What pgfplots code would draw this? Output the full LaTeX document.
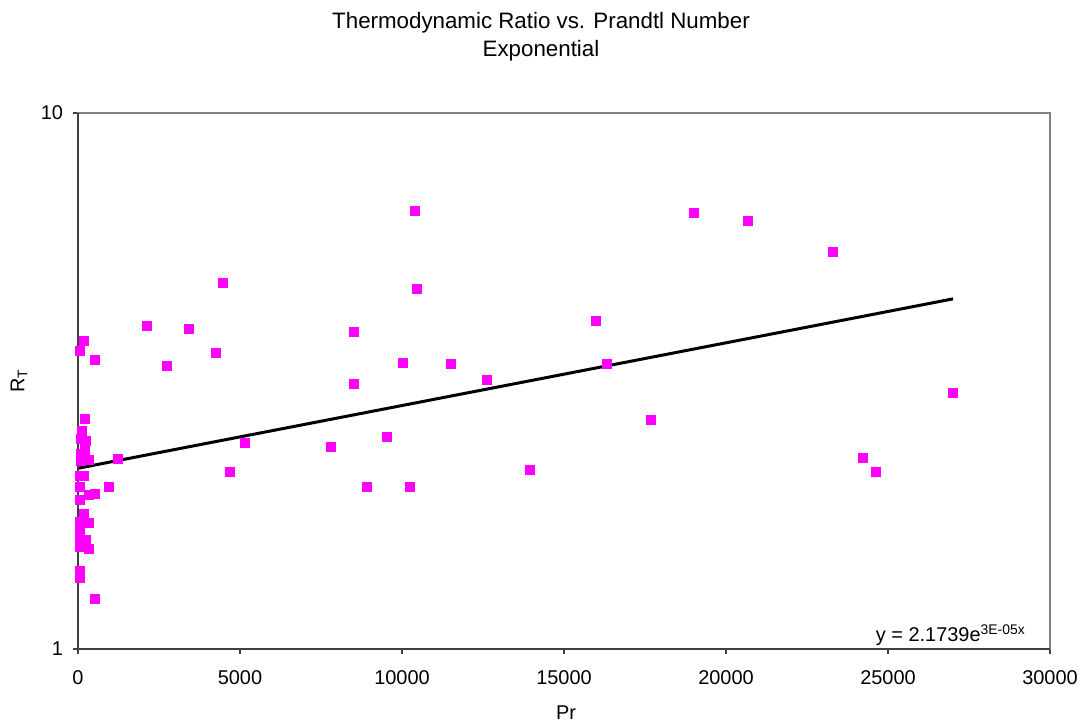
\documentclass[border=0pt]{standalone}
\usepackage{pgfplots}
\pgfplotsset{compat=1.18}
\usepackage{fontspec}
\setmainfont{Liberation Sans}
\definecolor{mag}{RGB}{255,0,255}
\pgfplotstableread{
x y
185 3.75
62 3.60
534 3.46
225 2.69
133 2.55
83 2.47
247 2.44
225 2.39
102 2.31
207 2.29
83 2.24
349 2.25
1244 2.26
62 2.10
185 2.10
62 2.01
966 2.01
62 1.90
330 1.94
534 1.95
185 1.79
62 1.73
330 1.72
62 1.67
62 1.61
247 1.60
62 1.55
330 1.54
62 1.40
62 1.36
534 1.24
2120 4.00
2740 3.37
3426 3.95
4259 3.57
4475 4.82
4691 2.14
5154 2.42
7809 2.38
8519 3.90
8519 3.13
8920 2.01
9537 2.49
10031 3.42
10247 2.01
10401 6.56
10463 4.69
11512 3.40
12623 3.18
13951 2.16
15988 4.09
16327 3.40
17685 2.68
19012 6.51
20679 6.29
23302 5.51
24228 2.27
24630 2.14
27006 3.00
}\datatable
\begin{document}
\begin{tikzpicture}[x=1bp,y=1bp]
\useasboundingbox (-39,-38) rectangle (504,324.5);
\begin{axis}[at={(0,0)}, anchor=south west,
  width=486bp, height=268bp, scale only axis,
  xmin=0, xmax=30000, ymin=1, ymax=10, ymode=log,
  xtick={0,5000,10000,15000,20000,25000,30000},
  ytick={1,10}, yticklabels={1,10},
  yminorticks=false, xminorticks=false,
  tick align=outside, xtick pos=bottom, ytick pos=left,
  major tick length=2.5bp,
  scaled x ticks=false,
  /pgf/number format/1000 sep={},
  /pgf/number format/assume math mode=true,
  tick label style={font=\fontsize{10}{12}\selectfont, text=black},
  xticklabel style={yshift=-5bp},
  yticklabel style={xshift=-1.5bp},
  axis line style={draw=black!50, line width=0.7bp},
  tick style={draw=black!75, line width=0.7bp},
  clip=false,
]
\addplot[only marks, mark=square*, mark size=2.25bp, color=mag, mark options={draw=mag, fill=mag}] table[x=x,y=y] {\datatable};
\addplot[black, line width=1.5bp, no marks] coordinates {(0,2.1739) (27006,4.50)};
\draw[black!75, line width=0.8bp] (rel axis cs:0,1) -- (rel axis cs:0,0) -- (rel axis cs:1,0);
\node[font=\fontsize{10}{12}\selectfont] at (rel axis cs:0.898,0.026) {y = 2.1739e\textsuperscript{3E-05x}};
\end{axis}
\node[anchor=base, font=\fontsize{11.2}{13}\selectfont] at (231.5,310.5) {Thermodynamic Ratio vs. Prandtl Number};
\node[anchor=base, font=\fontsize{11.2}{13}\selectfont] at (231.5,296.5) {Exponential};
\node[anchor=base, font=\fontsize{10}{12}\selectfont] at (244,-35) {Pr};
\node[rotate=90, font=\fontsize{10}{12}\selectfont] at (-29.5,134) {R\textsubscript{T}};
\end{tikzpicture}
\end{document}
